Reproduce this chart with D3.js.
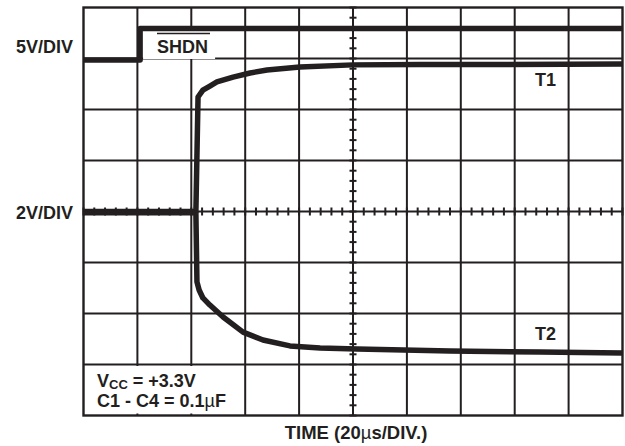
<!DOCTYPE html>
<html>
<head>
<meta charset="utf-8">
<script src="https://cdn.jsdelivr.net/npm/d3@7"></script>
<style>
  html, body { margin: 0; padding: 0; background: #fff; }
  svg { display: block; }
  text {
    font-family: "Liberation Sans", Arial, Helvetica, sans-serif;
    font-weight: bold;
    fill: #231f20;
  }
</style>
</head>
<body>
<div id="chart"></div>
<script>
// Scope screen: 10 x 8 divisions, 20us per horizontal division
const timeTicks = [0, 20, 40, 60, 80, 100, 120, 140, 160, 180, 200];
const divTicks = [-4, -3, -2, -1, 0, 1, 2, 3, 4];

// SHDN input (5V/DIV), time in us, volts
const shdnTime = [0, 21, 200];
const shdnVolts = [0, 3.1, 3.1];

// T1 output (2V/DIV)
const t1Time = [0, 41.7, 42.5, 44.3, 46.9, 49.5, 55.5, 61.8, 68.1, 80.3, 100, 124.9, 154.5, 200];
const t1Volts = [0, 0, 4.49, 4.76, 4.92, 5.08, 5.27, 5.43, 5.55, 5.67, 5.75, 5.76, 5.76, 5.78];

// T2 output (2V/DIV)
const t2Time = [0, 41.7, 42.1, 42.9, 44.3, 46.9, 51.8, 59.2, 66.6, 76.6, 87.8, 101.5, 136, 169.4, 200];
const t2Volts = [-0.05, -0.05, -2.76, -3.08, -3.39, -3.67, -4.14, -4.73, -5.04, -5.27, -5.35, -5.39, -5.47, -5.51, -5.55];

const COLOR = '#231f20';
const WIDTH = 625;
const HEIGHT = 446;

// Channel settings: volts per division and ground position (in divisions)
const channels = [
  { name: 'SHDN', time: shdnTime, volts: shdnVolts, perDiv: 5, offset: 2.97, curve: d3.curveStepAfter },
  { name: 'T1', time: t1Time, volts: t1Volts, perDiv: 2, offset: 0, curve: d3.curveLinear },
  { name: 'T2', time: t2Time, volts: t2Volts, perDiv: 2, offset: 0, curve: d3.curveLinear }
];

const svg = d3.select('#chart').append('svg')
  .attr('width', WIDTH)
  .attr('height', HEIGHT);

const x = d3.scaleLinear().domain([0, 200]).range([83.5, 622.5]);
const y = d3.scaleLinear().domain([-4, 4]).range([415.5, 7.5]);

// Grid
const grid = svg.append('g')
  .attr('stroke', COLOR)
  .attr('stroke-width', 2)
  .attr('fill', 'none');

grid.selectAll('.v-line')
  .data(timeTicks.slice(1, -1))
  .enter()
  .append('line')
  .attr('x1', d => x(d))
  .attr('x2', d => x(d))
  .attr('y1', y(4))
  .attr('y2', y(-4));

grid.selectAll('.h-line')
  .data(divTicks.slice(1, -1))
  .enter()
  .append('line')
  .attr('x1', x(0))
  .attr('x2', x(200))
  .attr('y1', d => y(d))
  .attr('y2', d => y(d));

// Minor ticks on the centre lines
grid.selectAll('.h-tick')
  .data(d3.range(0, 201, 4))
  .enter()
  .append('line')
  .attr('x1', d => x(d))
  .attr('x2', d => x(d))
  .attr('y1', y(0) - 4)
  .attr('y2', y(0) + 4);

grid.selectAll('.v-tick')
  .data(d3.range(-20, 21).map(d => d / 5))
  .enter()
  .append('line')
  .attr('x1', x(100) - 3.5)
  .attr('x2', x(100) + 3.5)
  .attr('y1', d => y(d))
  .attr('y2', d => y(d));

grid.append('rect')
  .attr('x', x(0))
  .attr('y', y(4))
  .attr('width', x(200) - x(0))
  .attr('height', y(-4) - y(4))
  .attr('stroke-width', 2.4);

// White label boxes that hide the grid
svg.append('rect')
  .attr('x', x(21) + 3)
  .attr('y', 31)
  .attr('width', 72)
  .attr('height', 28)
  .attr('fill', '#fff');

svg.append('rect')
  .attr('x', x(0) + 1.5)
  .attr('y', y(-3) + 1.5)
  .attr('width', 158)
  .attr('height', 47.5)
  .attr('fill', '#fff');

// Traces
const line = d3.line();
channels.forEach((ch) => {
  const pts = ch.time.map((t, i) => [x(t), y(ch.offset + ch.volts[i] / ch.perDiv)]);
  svg.append('path')
    .attr('d', line.curve(ch.curve)(pts))
    .attr('fill', 'none')
    .attr('stroke', COLOR)
    .attr('stroke-width', 5.5)
    .attr('stroke-linejoin', 'round');
});

// Labels
svg.append('text')
  .attr('x', 73)
  .attr('y', 53)
  .attr('text-anchor', 'end')
  .style('font-size', '18px')
  .text('5V/DIV');

svg.append('text')
  .attr('x', 73)
  .attr('y', 219)
  .attr('text-anchor', 'end')
  .style('font-size', '18px')
  .text('2V/DIV');

svg.append('text')
  .attr('x', 157)
  .attr('y', 53)
  .style('font-size', '18px')
  .text('SHDN');

svg.append('line')
  .attr('x1', 157)
  .attr('x2', 210)
  .attr('y1', 33.5)
  .attr('y2', 33.5)
  .attr('stroke', COLOR)
  .attr('stroke-width', 1.6);

svg.append('text')
  .attr('x', 535)
  .attr('y', 86)
  .style('font-size', '18px')
  .text('T1');

svg.append('text')
  .attr('x', 535)
  .attr('y', 340)
  .style('font-size', '18px')
  .text('T2');

const vcc = svg.append('text')
  .attr('x', 97)
  .attr('y', 387)
  .style('font-size', '18px');
vcc.append('tspan').text('V');
vcc.append('tspan').attr('dy', 2).style('font-size', '13px').text('CC');
vcc.append('tspan').attr('dy', -2).text(' = +3.3V');

const cap = svg.append('text')
  .attr('x', 97)
  .attr('y', 407)
  .style('font-size', '18px');
cap.append('tspan').text('C1 - C4 = 0.1');
cap.append('tspan').style('font-weight', 'normal').text('\u00b5');
cap.append('tspan').text('F');

const time = svg.append('text')
  .attr('x', x(100) + 3)
  .attr('y', 439)
  .attr('text-anchor', 'middle')
  .style('font-size', '18.5px');
time.append('tspan').text('TIME (20');
time.append('tspan').style('font-weight', 'normal').text('\u00b5');
time.append('tspan').text('s/DIV.)');
</script>
</body>
</html>
